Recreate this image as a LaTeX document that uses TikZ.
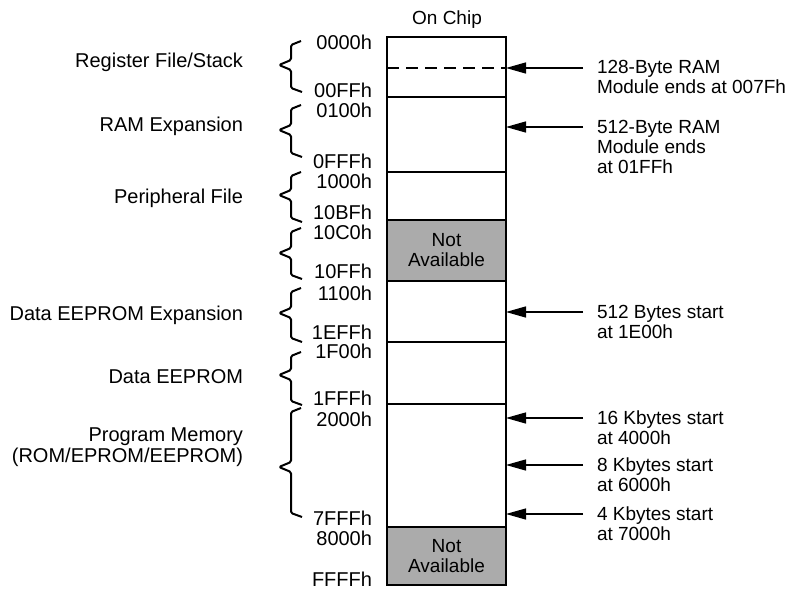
\documentclass[tikz,border=0pt]{standalone}
\usepackage{fontspec}
\setmainfont{Liberation Sans}
\usetikzlibrary{arrows.meta}
\begin{document}
\begin{tikzpicture}[x=1pt,y=-1pt,
  every node/.style={inner sep=0pt,outer sep=0pt,font=\fontsize{19}{20}\selectfont},
  big/.style={font=\fontsize{20}{21}\selectfont},
  seg/.style={draw,line width=2.2pt,minimum width=119pt,anchor=north west,rectangle},
  na/.style={seg,fill=black!33},
  arr/.style={line width=1.3pt,-{Triangle[length=20pt,width=11pt]}},
  brc/.style={line width=2pt,line join=round,rounded corners=1.5pt},
  hex/.style={big,anchor=base east},
  lab/.style={big,anchor=base east,align=right},
  note/.style={anchor=north west,align=left}]
\useasboundingbox (0,0) rectangle (809,589);
% memory column
\node[seg,minimum height=60pt] (s1) at (387,37) {};
\node[seg,minimum height=75pt] (s2) at (387,97) {};
\node[seg,minimum height=48pt] (s3) at (387,172) {};
\node[na,minimum height=61pt] (s4) at (387,220) {};
\node[seg,minimum height=61pt] (s5) at (387,281) {};
\node[seg,minimum height=62pt] (s6) at (387,342) {};
\node[seg,minimum height=123pt] (s7) at (387,404) {};
\node[na,minimum height=58pt] (s8) at (387,527) {};
\node[align=center] (na1) at (s4.center) {Not\\Available};
\node[align=center] (na2) at (s8.center) {Not\\Available};
\draw[line width=2pt,dash pattern=on 12pt off 7pt] (s1.west |- 0,68) -- (s1.east |- 0,68);
\node[anchor=base] (title) at (447,24) {On Chip};
% hex addresses
\node[hex] (h1) at (372,49) {0000h};
\node[hex] (h2) at (372,97) {00FFh};
\node[hex] (h3) at (372,117) {0100h};
\node[hex] (h4) at (372,168) {0FFFh};
\node[hex] (h5) at (372,188) {1000h};
\node[hex] (h6) at (372,219) {10BFh};
\node[hex] (h7) at (372,239) {10C0h};
\node[hex] (h8) at (372,278) {10FFh};
\node[hex] (h9) at (372,300) {1100h};
\node[hex] (h10) at (372,339) {1EFFh};
\node[hex] (h11) at (372,358) {1F00h};
\node[hex] (h12) at (372,405) {1FFFh};
\node[hex] (h13) at (372,426) {2000h};
\node[hex] (h14) at (372,525) {7FFFh};
\node[hex] (h15) at (372,545) {8000h};
\node[hex] (h16) at (372,586) {FFFFh};
% braces
\draw[brc] (301,41) -- (291,45) -- (291,60) -- (279,65) -- (291,70) -- (291,88) -- (302,92);
\draw[brc] (301,105) -- (291,109) -- (291,125) -- (279,130) -- (291,135) -- (291,153) -- (302,157);
\draw[brc] (301,172) -- (291,176) -- (291,190) -- (279,195) -- (291,200) -- (291,218) -- (302,222);
\draw[brc] (301,228) -- (291,232) -- (291,248) -- (279,253) -- (291,258) -- (291,275) -- (302,279);
\draw[brc] (301,288) -- (291,292) -- (291,308) -- (279,313) -- (291,318) -- (291,338) -- (302,342);
\draw[brc] (301,352) -- (291,356) -- (291,370) -- (279,375) -- (291,380) -- (291,401) -- (302,405);
\draw[brc] (301,408) -- (291,412) -- (291,462) -- (279,467) -- (291,472) -- (291,513) -- (302,517);
% left labels
\node[lab] (l1) at (243,67) {Register File/Stack};
\node[lab] (l2) at (243,131) {RAM Expansion};
\node[lab] (l3) at (243,203) {Peripheral File};
\node[lab] (l4) at (243,320) {Data EEPROM Expansion};
\node[lab] (l5) at (243,383) {Data EEPROM};
\node[lab] (l6) at (243,462) {Program Memory\\(ROM/EPROM/EEPROM)};
% right notes
\node[note] (n1) at (597,60) {128-Byte RAM\\Module ends at 007Fh};
\node[note] (n2) at (597,120) {512-Byte RAM\\Module ends\\at 01FFh};
\node[note] (n3) at (597,305) {512 Bytes start\\at 1E00h};
\node[note] (n4) at (597,411) {16 Kbytes start\\at 4000h};
\node[note] (n5) at (597,458) {8 Kbytes start\\at 6000h};
\node[note] (n6) at (597,507) {4 Kbytes start\\at 7000h};
\coordinate (a1) at (583,68);
\coordinate (a2) at (583,127);
\coordinate (a3) at (583,312);
\coordinate (a4) at (583,418);
\coordinate (a5) at (583,465);
\coordinate (a6) at (583,514);
\draw[arr] (a1) -- (a1 -| s1.east);
\draw[arr] (a2) -- (a2 -| s2.east);
\draw[arr] (a3) -- (a3 -| s5.east);
\draw[arr] (a4) -- (a4 -| s7.east);
\draw[arr] (a5) -- (a5 -| s7.east);
\draw[arr] (a6) -- (a6 -| s7.east);
\end{tikzpicture}
\end{document}
